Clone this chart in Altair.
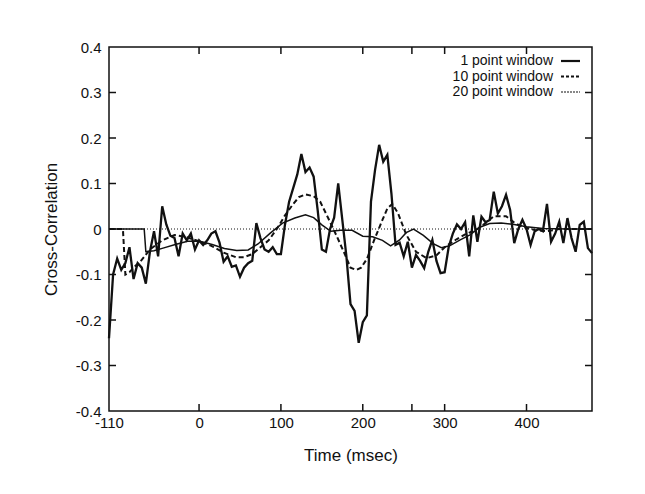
import altair as alt
import pandas as pd

# ---- data ----
t1 = list(range(-110, 481, 5))
one_point = [
    -0.24, -0.10, -0.065, -0.09, -0.075, -0.04, -0.11, -0.075, -0.085, -0.12,
    -0.05, -0.005, -0.06, 0.05, 0.01, -0.015, -0.02, -0.06, -0.01, -0.025,
    -0.01, -0.045, -0.025, -0.035, -0.025, -0.01, -0.005, -0.03, -0.072, -0.06,
    -0.083, -0.08, -0.105, -0.085, -0.075, -0.07, 0.013, -0.02, -0.045, -0.05,
    -0.04, -0.055, -0.055, 0.01, 0.06, 0.09, 0.12, 0.165, 0.125, 0.135,
    0.115, 0.04, -0.045, -0.05, 0.0, 0.025, 0.10, 0.02, -0.06, -0.165,
    -0.18, -0.25, -0.205, -0.19, 0.06, 0.13, 0.185, 0.148, 0.163, 0.078,
    -0.035, -0.03, -0.06, -0.028, -0.085, -0.057, -0.07, -0.086, -0.05, -0.024,
    -0.07, -0.097, -0.095, -0.039, -0.01, 0.01, 0.0, 0.015, -0.06, 0.03,
    -0.028, 0.027, 0.015, 0.02, 0.082, 0.034, 0.05, 0.075, 0.042, -0.031,
    0.0, 0.02, 0.0, -0.035, -0.005, 0.0, -0.005, 0.055, -0.028, -0.01,
    0.016, -0.031, 0.024, -0.02, -0.05, 0.009, 0.016, -0.042, -0.053,
]

t10 = [-110, -93, -90, -85, -80, -70, -60, -45, -30, -15, 0, 15, 30, 45, 55, 65,
       75, 85, 95, 105, 115, 122, 130, 140, 148, 158, 168, 178, 185, 192, 198,
       205, 214, 224, 230, 236, 243, 253, 265, 278, 290, 300, 315, 325, 340, 350,
       360, 375, 385, 395, 410, 425, 440, 460, 480]
ten_point = [0.0, 0.0, -0.1, -0.095, -0.085, -0.068, -0.045, -0.025, -0.013, -0.018,
             -0.027, -0.037, -0.052, -0.062, -0.062, -0.055, -0.04, -0.025, 0.0, 0.03,
             0.055, 0.07, 0.076, 0.072, 0.06, 0.023, -0.015, -0.055, -0.085, -0.09,
             -0.085, -0.066, -0.024, 0.02, 0.045, 0.055, 0.035, -0.012, -0.05, -0.064,
             -0.058, -0.04, -0.022, -0.012, 0.0, 0.013, 0.028, 0.028, 0.014, 0.005,
             -0.002, -0.005, 0.0, 0.0, 0.0]

t20 = [-110, -67, -65, -55, -44, -29, -14, 1, 16, 31, 46, 60, 72, 87, 102, 117,
       130, 140, 150, 161, 173, 187, 200, 212, 224, 234, 245, 253, 262, 274, 286,
       296, 306, 319, 331, 343, 355, 369, 385, 400, 420, 450, 480]
twenty_point = [0.0, 0.0, -0.05, -0.048, -0.042, -0.034, -0.027, -0.027, -0.034, -0.043,
                -0.047, -0.046, -0.033, -0.009, 0.013, 0.024, 0.031, 0.025, 0.009, -0.005,
                -0.003, -0.003, -0.016, -0.017, -0.025, -0.037, -0.024, -0.008, 0.0, -0.014,
                -0.032, -0.041, -0.037, -0.024, -0.013, 0.004, 0.012, 0.013, 0.01, 0.005,
                0.001, 0.0, 0.0]

legend_labels = ["1 point window", "10 point window", "20 point window"]
x_tick_labels = [-110, 0, 100, 200, 300, 400]
x_inner_ticks = [0, 100, 200, 260, 300, 400]
y_tick_labels = [-0.4, -0.3, -0.2, -0.1, 0.0, 0.1, 0.2, 0.3, 0.4]
y_inner_ticks = [-0.3, -0.2, -0.1, 0.0, 0.1, 0.2, 0.3]

W, H = 483, 364
INK = "#111111"
FONT = "Liberation Sans"

xscale = alt.Scale(domain=[-110, 480], nice=False, zero=False)
yscale = alt.Scale(domain=[-0.4, 0.4], nice=False, zero=False)

xaxis = alt.Axis(values=x_tick_labels, ticks=False, domain=False, grid=False,
                 labelExpr="toString(datum.value)", labelFontSize=15, labelPadding=4,
                 labelColor=INK, labelFont=FONT, title="Time (msec)", titleFont=FONT,
                 titleFontSize=17, titleFontWeight="normal", titleColor=INK,
                 titleX=W / 2, titleY=44, titleBaseline="middle", labelFlush=False)
yaxis = alt.Axis(values=y_tick_labels, ticks=False, domain=False, grid=False,
                 labelExpr="datum.value == 0 ? '0' : toString(round(datum.value * 10) / 10)",
                 labelFontSize=15, labelPadding=8, labelColor=INK, labelFont=FONT,
                 title="Cross-Correlation", titleFont=FONT, titleFontSize=17,
                 titleFontWeight="normal", titleColor=INK, titleAngle=-90,
                 titleX=-58, titleY=H / 2, titleAlign="center", titleBaseline="middle",
                 labelFlush=False)

df1 = pd.DataFrame({"t": t1, "v": one_point})
df10 = pd.DataFrame({"t": t10, "v": ten_point})
df20 = pd.DataFrame({"t": t20, "v": twenty_point})

zero = alt.Chart(pd.DataFrame({"v": [0.0]})).mark_rule(
    color=INK, strokeWidth=1, strokeDash=[1, 2]).encode(
    y=alt.Y("v:Q", scale=yscale, axis=yaxis))

line20 = alt.Chart(df20).mark_line(color=INK, strokeWidth=1.5).encode(
    x=alt.X("t:Q", scale=xscale, axis=xaxis), y=alt.Y("v:Q", scale=yscale))
line10 = alt.Chart(df10).mark_line(color=INK, strokeWidth=2, strokeDash=[5, 3]).encode(
    x=alt.X("t:Q", scale=xscale), y=alt.Y("v:Q", scale=yscale))
line1 = alt.Chart(df1).mark_line(color=INK, strokeWidth=2.3).encode(
    x=alt.X("t:Q", scale=xscale), y=alt.Y("v:Q", scale=yscale))

xt = pd.DataFrame({"t": x_inner_ticks})
yt = pd.DataFrame({"v": y_inner_ticks})
tick_bot = alt.Chart(xt).mark_rule(color=INK, strokeWidth=1.5).encode(
    x=alt.X("t:Q", scale=xscale), y=alt.value(H), y2=alt.value(H - 7))
tick_top = alt.Chart(xt).mark_rule(color=INK, strokeWidth=1.5).encode(
    x=alt.X("t:Q", scale=xscale), y=alt.value(0), y2=alt.value(7))
tick_left = alt.Chart(yt).mark_rule(color=INK, strokeWidth=1.5).encode(
    y=alt.Y("v:Q", scale=yscale), x=alt.value(0), x2=alt.value(7))
tick_right = alt.Chart(yt).mark_rule(color=INK, strokeWidth=1.5).encode(
    y=alt.Y("v:Q", scale=yscale), x=alt.value(W), x2=alt.value(W - 7))

# ---- legend (manual, labels to the left of samples) ----
leg_df = pd.DataFrame({"label": legend_labels})
legend_layers = []
styles = [dict(strokeWidth=2.2), dict(strokeWidth=1.8, strokeDash=[3, 2]),
          dict(strokeWidth=1.2, strokeDash=[2, 1])]
for i, lab in enumerate(legend_labels):
    ypix = 14 + 15.5 * i
    d = leg_df[leg_df["label"] == lab]
    legend_layers.append(
        alt.Chart(d).mark_text(align="right", baseline="middle", font=FONT,
                               fontSize=14, color=INK).encode(
            text="label:N", x=alt.value(444), y=alt.value(ypix)))
    legend_layers.append(
        alt.Chart(d).mark_rule(color=INK, **styles[i]).encode(
            x=alt.value(452), x2=alt.value(471), y=alt.value(ypix)))

chart = alt.layer(zero, line20, line10, line1, tick_bot, tick_top, tick_left,
                  tick_right, *legend_layers).properties(
    width=W, height=H,
    autosize=alt.AutoSizeParams(type="none"),
    padding={"left": 101, "top": 39, "right": 45, "bottom": 75},
    background="white",
).configure_view(stroke=INK, strokeWidth=1.5)

chart.save("out.html", embed_options={"renderer": "svg", "actions": False})
